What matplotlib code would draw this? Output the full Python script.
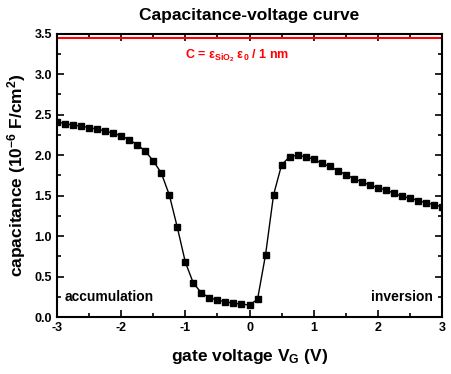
import matplotlib
matplotlib.use("Agg")
import matplotlib.pyplot as plt
from matplotlib.ticker import MultipleLocator

# C-V data
gate_v = [-3.0, -2.875, -2.75, -2.625, -2.5, -2.375, -2.25, -2.125, -2.0, -1.875,
          -1.75, -1.625, -1.5, -1.375, -1.25, -1.125, -1.0, -0.875, -0.75, -0.625,
          -0.5, -0.375, -0.25, -0.125, 0.0, 0.125, 0.25, 0.375, 0.5, 0.625,
          0.75, 0.875, 1.0, 1.125, 1.25, 1.375, 1.5, 1.625, 1.75, 1.875,
          2.0, 2.125, 2.25, 2.375, 2.5, 2.625, 2.75, 2.875, 3.0]
cap = [2.41, 2.39, 2.37, 2.36, 2.34, 2.32, 2.30, 2.27, 2.24, 2.19,
       2.13, 2.05, 1.93, 1.78, 1.51, 1.11, 0.68, 0.42, 0.30, 0.24,
       0.21, 0.19, 0.17, 0.16, 0.15, 0.22, 0.77, 1.51, 1.88, 1.98,
       2.00, 1.98, 1.95, 1.90, 1.86, 1.81, 1.76, 1.71, 1.67, 1.63,
       1.60, 1.57, 1.53, 1.49, 1.47, 1.44, 1.41, 1.39, 1.36]
c_ox = 3.45  # eps_SiO2 * eps_0 / 1 nm

plt.rcParams['font.family'] = ['Liberation Sans', 'DejaVu Sans']
plt.rcParams['font.weight'] = 'bold'
plt.rcParams['axes.unicode_minus'] = False
plt.rcParams['mathtext.fontset'] = 'custom'
plt.rcParams['mathtext.rm'] = 'Liberation Sans:bold'
plt.rcParams['mathtext.bf'] = 'Liberation Sans:bold'
plt.rcParams['mathtext.it'] = 'Liberation Sans:bold'
plt.rcParams['mathtext.default'] = 'bf'

fig = plt.figure(figsize=(4.52, 3.74), dpi=100)
ax = fig.add_axes([0.126, 0.152, 0.852, 0.758])

ax.plot(gate_v, cap, color='black', linewidth=1.0, marker='s', markersize=4.5)
ax.axhline(c_ox, color='red', linewidth=1.5)
ax.text(-0.2, 3.23, 'C = ε$_{SiO_2}$ ε$_0$ / 1 nm', color='red', fontsize=9,
        fontweight='bold', ha='center', va='center')

# region labels
ax.text(-2.88, 0.25, 'accumulation', fontsize=10, fontweight='bold', va='center')
ax.text(2.85, 0.25, 'inversion', fontsize=10, fontweight='bold', va='center', ha='right')

ax.set_xlim(-3, 3)
ax.set_ylim(0, 3.5)
ax.xaxis.set_major_locator(MultipleLocator(1))
ax.xaxis.set_minor_locator(MultipleLocator(0.5))
ax.yaxis.set_major_locator(MultipleLocator(0.5))
ax.yaxis.set_minor_locator(MultipleLocator(0.25))
ax.tick_params(which='both', direction='in', top=True, right=True, width=1.2,
               labelsize=9)
ax.tick_params(which='major', length=5)
ax.tick_params(which='minor', length=3)
for lab in ax.get_xticklabels() + ax.get_yticklabels():
    lab.set_fontweight('bold')
for sp in ax.spines.values():
    sp.set_linewidth(1.5)

ax.set_title('Capacitance-voltage curve', fontsize=12.5, fontweight='bold', pad=10)
ax.set_xlabel('gate voltage V$_G$ (V)', fontsize=12.5, fontweight='bold', labelpad=9)
ax.set_ylabel('capacitance (10$^{-6}$ F/cm$^2$)', fontsize=12.5, fontweight='bold',
              labelpad=5)

fig.savefig('out.png', dpi=100)
